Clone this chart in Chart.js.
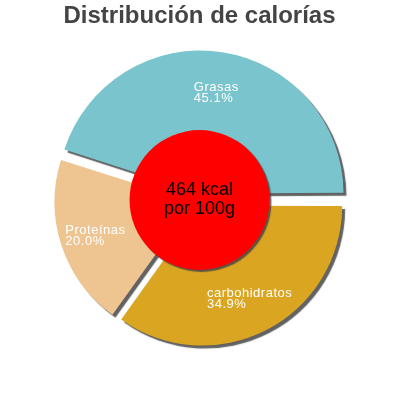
<!DOCTYPE html>
<html>
<head>
<meta charset="utf-8">
<script src="https://cdn.jsdelivr.net/npm/chart.js@4"></script>
<style>
  html, body { margin: 0; padding: 0; background: #fff; }
  #wrap { width: 400px; height: 400px; }
</style>
</head>
<body>
<div id="wrap"><canvas id="chart"></canvas></div>
<script>
// slices, clockwise from 3 o'clock
const labels = ['carbohidratos', 'Proteínas', 'Grasas'];
const percents = [34.9, 20.0, 45.1];
const colors = ['#DAA520', '#EEC591', '#7AC5CD'];
const centerLines = ['464 kcal', 'por 100g'];
const title = 'Distribución de calorías';

const FONT = '"Liberation Sans", Arial, sans-serif';
const SLICE_OFFSET = 26; // chart.js moves each arc by offset / 4

// drop shadow under the slices, red centre disc and the texts
const decorations = {
  id: 'decorations',
  beforeDatasetsDraw(chart) {
    const ctx = chart.ctx;
    ctx.save();
    ctx.shadowColor = 'rgba(70,70,70,0.85)';
    ctx.shadowOffsetX = 3;
    ctx.shadowOffsetY = 3;
    ctx.shadowBlur = 1;
  },
  afterDatasetsDraw(chart) {
    const ctx = chart.ctx;
    ctx.restore();

    const arcs = chart.getDatasetMeta(0).data;
    const shift = SLICE_OFFSET / 4;
    const { x, y, outerRadius } = arcs[0].getProps(['x', 'y', 'outerRadius'], true);

    // red centre
    ctx.save();
    ctx.shadowColor = 'rgba(70,70,70,0.85)';
    ctx.shadowOffsetX = 2;
    ctx.shadowOffsetY = 2;
    ctx.shadowBlur = 1;
    ctx.beginPath();
    ctx.arc(x, y, outerRadius * 0.505, 0, Math.PI * 2);
    ctx.fillStyle = '#FF0000';
    ctx.fill();
    ctx.restore();

    ctx.save();
    ctx.fillStyle = '#000';
    ctx.font = '18px ' + FONT;
    ctx.textAlign = 'center';
    ctx.textBaseline = 'alphabetic';
    ctx.fillText(centerLines[0], x, y - 5);
    ctx.fillText(centerLines[1], x, y + 14);
    ctx.restore();

    // slice labels
    ctx.save();
    ctx.fillStyle = '#fff';
    ctx.font = '13px ' + FONT;
    ctx.letterSpacing = '0.5px';
    ctx.textAlign = 'left';
    ctx.textBaseline = 'alphabetic';
    arcs.forEach((arc, i) => {
      const { startAngle, endAngle } = arc.getProps(['startAngle', 'endAngle'], true);
      const mid = (startAngle + endAngle) / 2;
      const r = outerRadius * 0.745 + shift;
      const cx = x + Math.cos(mid) * r;
      const cy = y + Math.sin(mid) * r;
      const lines = [labels[i], percents[i].toFixed(1) + '%'];
      const w = Math.max(...lines.map(t => ctx.measureText(t).width));
      ctx.fillText(lines[0], cx - w / 2, cy - 1);
      ctx.fillText(lines[1], cx - w / 2, cy + 10);
    });
    ctx.restore();
  }
};

new Chart(document.getElementById('chart'), {
  type: 'pie',
  data: {
    labels,
    datasets: [{
      data: percents,
      backgroundColor: colors,
      borderWidth: 0,
      offset: SLICE_OFFSET,
      hoverOffset: 0
    }]
  },
  options: {
    responsive: true,
    maintainAspectRatio: false,
    animation: false,
    rotation: 90,
    layout: { padding: { left: 48, right: 49, top: 0, bottom: 48.5 } },
    plugins: {
      legend: { display: false },
      tooltip: { enabled: false },
      title: {
        display: true,
        text: title,
        color: '#444',
        font: { family: FONT, size: 24, weight: 'bold' },
        padding: { top: 1.5, bottom: 18.2 }
      }
    },
    events: []
  },
  plugins: [decorations]
});
</script>
</body>
</html>
